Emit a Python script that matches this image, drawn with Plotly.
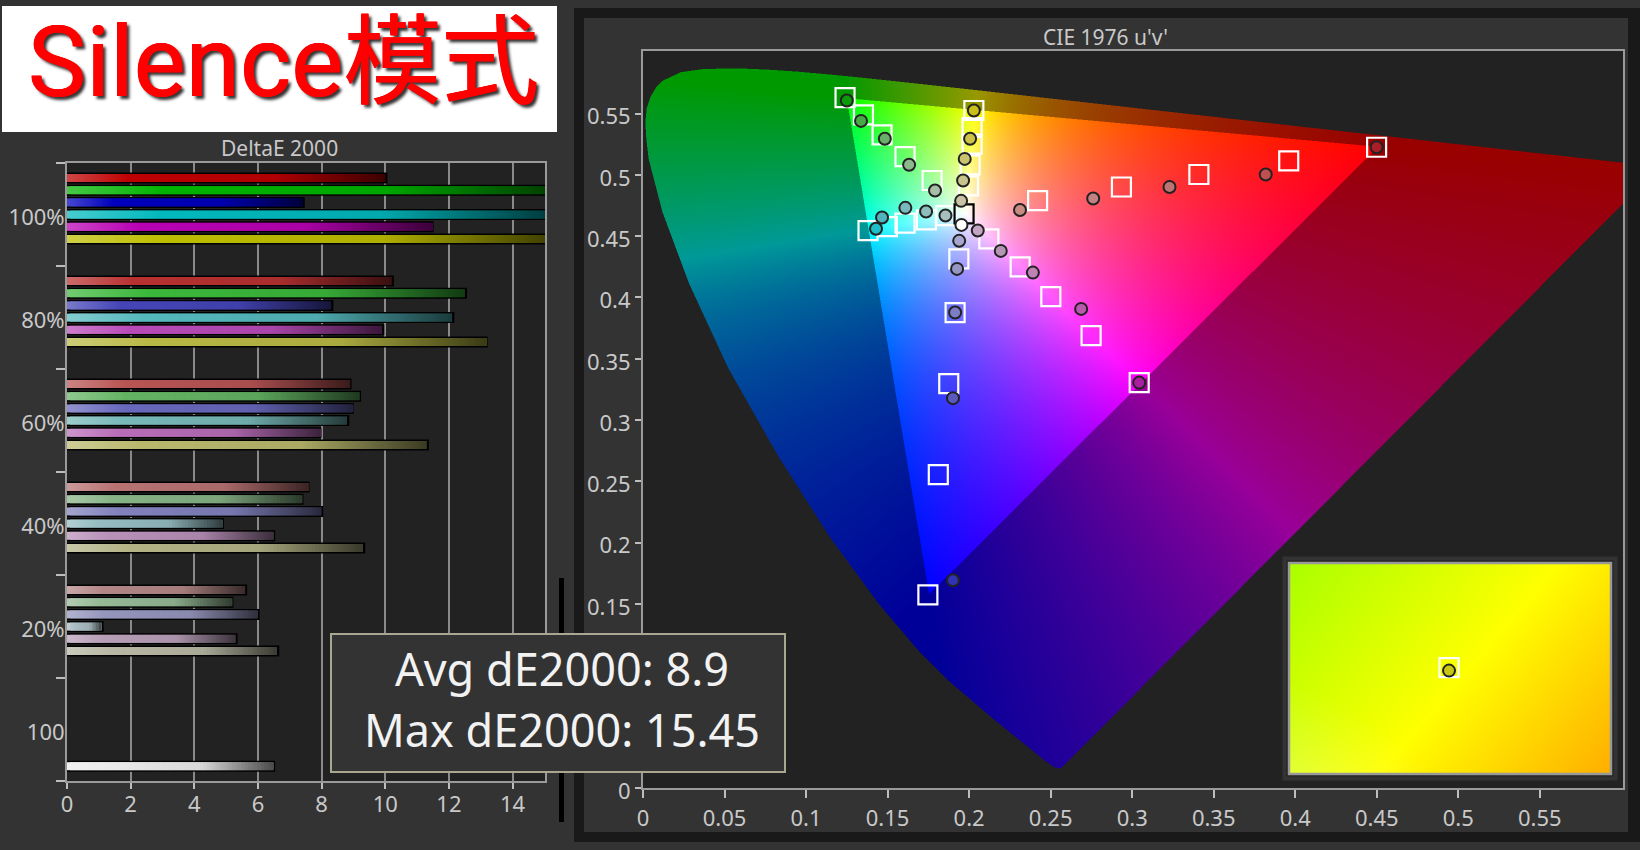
import base64, struct, zlib
import numpy as np
import plotly.graph_objects as go

W, H = 1640, 850

# ---------- DeltaE bars ----------
row_labels = ["100%", "80%", "60%", "40%", "20%", "100"]
de_100 = [10.0, 15.45, 7.4, 15.2, 11.45, 15.3]
de_80 = [10.2, 12.5, 8.3, 12.1, 9.9, 13.15]
de_60 = [8.87, 9.17, 8.94, 8.8, 7.92, 11.3]
de_40 = [7.55, 7.36, 7.98, 4.86, 6.47, 9.3]
de_20 = [5.59, 5.16, 5.98, 1.08, 5.29, 6.6]
de_white = [6.47]
x_ticks = [0, 2, 4, 6, 8, 10, 12, 14]

bar_100 = ["#be0000", "#00b400", "#0000be", "#00b9be", "#b900b4", "#bebe00"]
bar_80 = ["#b93232", "#3cb93c", "#4646b9", "#55b9be", "#b94bb9", "#b9b946"]
bar_60 = ["#b95555", "#64b464", "#6969be", "#78b9b9", "#b96eb9", "#b9b96e"]
bar_40 = ["#b97373", "#87b487", "#8282be", "#96bec3", "#b991b9", "#b4b487"]
bar_20 = ["#b48787", "#96b996", "#9696be", "#aabec3", "#b9a0b9", "#b9b9a5"]
bar_white = ["#ebebeb"]

# ---------- CIE measurements (u', v') ----------
red_target_u = [0.4499, 0.3960, 0.3409, 0.2934, 0.2420]
red_target_v = [0.5225, 0.5114, 0.5003, 0.4901, 0.4790]
green_target_u = [0.1239, 0.1352, 0.1466, 0.1607, 0.1773]
green_target_v = [0.5630, 0.5489, 0.5326, 0.5149, 0.4954]
blue_target_u = [0.1747, 0.1811, 0.1875, 0.1914, 0.1937]
blue_target_v = [0.1575, 0.2556, 0.3298, 0.3877, 0.4315]
cyan_target_u = [0.1380, 0.1499, 0.1607, 0.1738, 0.1857]
cyan_target_v = [0.4546, 0.4578, 0.4606, 0.4633, 0.4668]
magenta_target_u = [0.3043, 0.2748, 0.2501, 0.2313, 0.2121]
magenta_target_v = [0.3306, 0.3689, 0.4007, 0.4250, 0.4478]
yellow_target_u = [0.2029, 0.2018, 0.2018, 0.2006, 0.1996]
yellow_target_v = [0.5525, 0.5386, 0.5250, 0.5082, 0.4910]
white_target_u = [0.1969]
white_target_v = [0.4682]

red_meas_u = [0.4499, 0.3819, 0.3229, 0.2761, 0.2312]
red_meas_v = [0.5225, 0.5003, 0.4901, 0.4807, 0.4714]
green_meas_u = [0.1250, 0.1337, 0.1483, 0.1632, 0.1791]
green_meas_v = [0.5606, 0.5440, 0.5294, 0.5082, 0.4872]
blue_meas_u = [0.1901, 0.1901, 0.1914, 0.1926, 0.1939]
blue_meas_v = [0.1694, 0.3179, 0.3877, 0.4233, 0.4462]
cyan_meas_u = [0.1429, 0.1466, 0.1609, 0.1736, 0.1855]
cyan_meas_v = [0.4560, 0.4652, 0.4731, 0.4701, 0.4668]
magenta_meas_u = [0.3043, 0.2687, 0.2391, 0.2194, 0.2053]
magenta_meas_v = [0.3306, 0.3907, 0.4203, 0.4380, 0.4546]
yellow_meas_u = [0.2029, 0.2006, 0.1973, 0.1963, 0.1951]
yellow_meas_v = [0.5525, 0.5294, 0.5130, 0.4954, 0.4788]
white_meas_u = [0.1953]
white_meas_v = [0.4592]

red_dots = ["#aa1e28", "#be5050", "#be7373", "#c38282", "#c88c82"]
green_dots = ["#0a9a0a", "#46aa46", "#69af69", "#8cb98c", "#a5bea5"]
blue_dots = ["#3232b4", "#5a5abe", "#7d7dc3", "#9696c3", "#a5a5cd"]
cyan_dots = ["#1ebec8", "#50b4be", "#78b9be", "#8cbebe", "#a5bebe"]
magenta_dots = ["#aa1ea0", "#b95aaf", "#be82b4", "#b496b4", "#c3a5c3"]
yellow_dots = ["#c8be1e", "#cdc346", "#c8c36e", "#c8c38c", "#c8c3a5"]
white_dots = ["#ffffff"]

# spectral locus, CIE 1931 x, y from 380 to 700 nm
locus_x = [.1741, .1733, .1714, .1689, .1644, .1566, .1440, .1355, .1241, .1096, .0913, .0687,
           .0454, .0235, .0082, .0052, .0039, .0066, .0139, .0248, .0389, .0743, .1142, .1547,
           .1929, .2296, .2658, .3016, .3373, .3731, .4441, .5125, .5752, .6270, .6658, .6915,
           .7079, .7260, .7347]
locus_y = [.0050, .0048, .0051, .0069, .0109, .0177, .0297, .0399, .0578, .0868, .1327, .2007,
           .2950, .4127, .5384, .5966, .6548, .7060, .7502, .7860, .8120, .8338, .8262, .8059,
           .7816, .7543, .7243, .6923, .6589, .6245, .5547, .4866, .4242, .3725, .3340, .3083,
           .2920, .2740, .2653]

cie_ticks = [0, 0.05, 0.1, 0.15, 0.2, 0.25, 0.3, 0.35, 0.4, 0.45, 0.5, 0.55]
cie_labels_x = ["0", "0.05", "0.1", "0.15", "0.2", "0.25", "0.3", "0.35", "0.4", "0.45", "0.5", "0.55"]
# 0.05 and 0.1 sit behind the text box in the reference
cie_labels_y = ["0", "", "", "0.15", "0.2", "0.25", "0.3", "0.35", "0.4", "0.45", "0.5", "0.55"]

inset_target_x, inset_target_y = [0.497], [0.504]
inset_meas_x, inset_meas_y = [0.497], [0.490]


# ---------- helpers ----------
def px(x):
    return x / W


def py(y):
    return 1 - y / H


def rect(x0, y0, x1, y1, fill=None, line=None, lw=0, layer="below"):
    d = dict(type="rect", xref="paper", yref="paper", x0=px(x0), x1=px(x1), y0=py(y0), y1=py(y1),
             layer=layer, line=dict(width=lw, color=line or "rgba(0,0,0,0)"))
    if fill:
        d["fillcolor"] = fill
    return d


def hex_rgb(c):
    return np.array([int(c[i:i + 2], 16) for i in (1, 3, 5)], float)


def png_uri(img):
    h, w, _ = img.shape
    raw = b"".join(b"\x00" + img[r].tobytes() for r in range(h))

    def chunk(t, d):
        return struct.pack(">I", len(d)) + t + d + struct.pack(">I", zlib.crc32(t + d) & 0xffffffff)

    data = b"\x89PNG\r\n\x1a\n" + chunk(b"IHDR", struct.pack(">IIBBBBB", w, h, 8, 6, 0, 0, 0)) + \
        chunk(b"IDAT", zlib.compress(raw, 6)) + chunk(b"IEND", b"")
    return "data:image/png;base64," + base64.b64encode(data).decode()


def gamut_image(w=1960, h=1474, vmax=0.601, umax=0.601):
    lx, ly = np.array(locus_x), np.array(locus_y)
    den = -2 * lx + 12 * ly + 3
    pu, pv = 4 * lx / den, 9 * ly / den
    uu = (np.arange(w) + .5) / w * umax
    vv = vmax - (np.arange(h) + .5) / h * vmax
    U, V = np.meshgrid(uu, vv)
    inside = np.zeros(U.shape, bool)
    n = len(pu)
    for i in range(n):
        j = (i + 1) % n
        cond = (pv[i] > V) != (pv[j] > V)
        xcross = (pu[j] - pu[i]) * (V - pv[i]) / (pv[j] - pv[i] + 1e-12) + pu[i]
        inside ^= cond & (U < xcross)
    d = 6 * U - 16 * V + 12
    x, y = 9 * U / d, 4 * V / d
    y = np.maximum(y, 1e-4)
    X, Y, Z = x / y, np.ones_like(y), (1 - x - y) / y
    r = 3.2406 * X - 1.5372 * Y - 0.4986 * Z
    g = -0.9689 * X + 1.8758 * Y + 0.0415 * Z
    b = 0.0557 * X - 0.2040 * Y + 1.0570 * Z
    rgb = np.stack([r, g, b], -1)
    in_tri = rgb.min(-1) >= 0
    rgb = np.clip(rgb, 0, None)
    rgb = rgb / np.maximum(rgb.max(-1, keepdims=True), 1e-6)
    rgb = rgb ** (1 / 1.15)
    rgb = rgb * np.where(in_tri, 1.0, 0.6)[..., None]
    out = np.zeros((h, w, 4), np.uint8)
    out[..., :3] = np.clip(rgb * 255, 0, 255).astype(np.uint8)
    out[..., 3] = np.where(inside, 255, 0)
    return out


def inset_image(w=322, h=211):
    xs = np.linspace(0, 1, w)
    ys = np.linspace(0, 1, h)
    X, Y = np.meshgrid(xs, ys)
    dist = (X - .28) + .56 * (Y - 1)
    r = np.where(dist < 0, 255 + dist / .84 * 85, 255)
    g = np.where(dist < 0, 255, 255 - dist / .72 * 80)
    b = np.clip((1 - X) * Y - .55, 0, 1) * 120
    out = np.zeros((h, w, 4), np.uint8)
    out[..., 0], out[..., 1], out[..., 2] = np.clip(r, 0, 255), np.clip(g, 0, 255), b
    out[..., 3] = 255
    return out


def gradient(base, t):
    base = hex_rgb(base)
    white = np.array([255., 255, 255])
    stops = [0, .2, .65, 1]
    cols = [base * .72 + white * .28, base, base * .92, base * .32]
    c = [np.interp(t, stops, [k[i] for k in cols]) for i in range(3)]
    return "rgb(%d,%d,%d)" % tuple(c)


# ---------- figure ----------
fig = go.Figure()
FONT = "Noto Sans"
TXT = "#c9c9c9"
BAND, SLOT0, SLOT, FILL, EDGE = 103.0, 15.0, 12.2, 8.0, 11.0
rows = [de_100, de_80, de_60, de_40, de_20]
cols = [bar_100, bar_80, bar_60, bar_40, bar_20]
ypos, vals, bases, colors = [], [], [], []
edge_y, edge_x = [], []
STEP = 0.1


def add_bar(pos, value, col):
    edge_y.append(pos)
    edge_x.append(value + 0.07)
    n = int(np.ceil(value / STEP))
    for k in range(n):
        ypos.append(pos)
        bases.append(k * STEP)
        vals.append(max(value - k * STEP, 0) if k == n - 1 else STEP * 2.0)
        colors.append(gradient(col, (k + .5) / n))


for r, (row, colr) in enumerate(zip(rows, cols)):
    for i, v in enumerate(row):
        add_bar(r + (SLOT0 + SLOT * i) / BAND, v, colr[i])
add_bar(5 + (SLOT0 + SLOT * 6) / BAND, de_white[0], bar_white[0])

fig.add_trace(go.Bar(orientation="h", y=edge_y, x=edge_x, width=EDGE / BAND,
                     marker=dict(color="#000000", line=dict(width=0)), hoverinfo="skip",
                     showlegend=False, xaxis="x", yaxis="y"))
fig.add_trace(go.Bar(orientation="h", y=ypos, x=vals, base=bases, width=FILL / BAND,
                     marker=dict(color=colors, line=dict(width=0)), hoverinfo="skip",
                     showlegend=False, xaxis="x", yaxis="y"))

all_series = [
    (red_target_u, red_target_v, red_meas_u, red_meas_v, red_dots, "#ffffff"),
    (green_target_u, green_target_v, green_meas_u, green_meas_v, green_dots, "#ffffff"),
    (blue_target_u, blue_target_v, blue_meas_u, blue_meas_v, blue_dots, "#ffffff"),
    (cyan_target_u, cyan_target_v, cyan_meas_u, cyan_meas_v, cyan_dots, "#ffffff"),
    (magenta_target_u, magenta_target_v, magenta_meas_u, magenta_meas_v, magenta_dots, "#ffffff"),
    (yellow_target_u, yellow_target_v, yellow_meas_u, yellow_meas_v, yellow_dots, "#ffffff"),
    (white_target_u, white_target_v, white_meas_u, white_meas_v, white_dots, "#000000"),
]
for tu, tv, _, _, _, sq in all_series:
    fig.add_trace(go.Scatter(x=tu, y=tv, mode="markers", xaxis="x2", yaxis="y2", showlegend=False,
                             hoverinfo="skip",
                             marker=dict(symbol="square-open", size=19, color=sq,
                                         line=dict(color=sq, width=2.2))))
for _, _, mu, mv, dots, _ in all_series:
    fig.add_trace(go.Scatter(x=mu, y=mv, mode="markers", xaxis="x2", yaxis="y2", showlegend=False,
                             hoverinfo="skip",
                             marker=dict(symbol="circle", size=12, color=dots,
                                         line=dict(color="#222222", width=2))))
fig.add_trace(go.Scatter(x=inset_target_x, y=inset_target_y, mode="markers", xaxis="x3", yaxis="y3",
                         showlegend=False, hoverinfo="skip",
                         marker=dict(symbol="square-open", size=19, color="#ffffff",
                                     line=dict(color="#ffffff", width=2.2))))
fig.add_trace(go.Scatter(x=inset_meas_x, y=inset_meas_y, mode="markers", xaxis="x3", yaxis="y3",
                         showlegend=False, hoverinfo="skip",
                         marker=dict(symbol="circle", size=12, color="#c8c814",
                                     line=dict(color="#222222", width=2))))

axis_style = dict(showline=True, linecolor="#9a9a9a", linewidth=2, mirror=True, zeroline=False,
                  automargin=False,
                  tickfont=dict(family=FONT, size=22, color=TXT), tickcolor="#bdbdbd", tickwidth=2,
                  ticks="outside")

shapes = [
    rect(574, 8, 1640, 842, fill="#191919"),
    rect(584, 18, 1628, 832, fill="#333333"),
    rect(643, 51, 1623, 788, fill="#222222"),
    rect(67, 163, 545, 781, fill="#222222"),
    rect(2, 6, 557, 132, fill="#ffffff"),
    rect(559, 578, 564, 822, fill="#000000"),
    rect(1284.5, 558.5, 1615.5, 778.5, line="#333333", lw=4, layer="above"),
    rect(1289, 563, 1611, 774, line="#999999", lw=2.5, layer="above"),
]

ann = [
    dict(x=px(279), y=py(148), text="DeltaE 2000", font=dict(family=FONT, size=21, color=TXT)),
    dict(x=px(1105), y=py(37.5), text="CIE 1976 u'v'", font=dict(family=FONT, size=21, color=TXT)),
    dict(x=px(283), y=py(63), text="Silence模式",
         font=dict(family="Roboto, Noto Sans CJK TC", size=98, color="#ff0000",
                   shadow="0.5px 0 0 #f00, -0.5px 0 0 #f00, 3px 3px 3px rgba(0,0,0,0.8)")),
    dict(x=px(558), y=py(702.5), text=" ", width=452, height=136, bgcolor="#333333",
         bordercolor="#a8a890", borderwidth=2, borderpad=0, font=dict(size=10)),
    dict(x=px(562), y=py(668), text="Avg dE2000: 8.9", font=dict(family=FONT, size=45, color="#f2f2f2")),
    dict(x=px(562), y=py(729), text="Max dE2000: 15.45", font=dict(family=FONT, size=45, color="#f2f2f2")),
]
for a in ann:
    a.update(xref="paper", yref="paper", showarrow=False, xanchor="center", yanchor="middle")

images = [
    dict(source=png_uri(gamut_image()), xref="x2", yref="y2", x=0, y=0.601, sizex=0.601, sizey=0.601,
         sizing="stretch", layer="below", xanchor="left", yanchor="top"),
    dict(source=png_uri(inset_image()), xref="x3", yref="y3", x=0, y=1, sizex=1, sizey=1,
         sizing="stretch", layer="below", xanchor="left", yanchor="top"),
]

fig.update_layout(
    width=W, height=H, autosize=False,
    margin=dict(l=0, r=0, t=0, b=0, autoexpand=False),
    paper_bgcolor="#333333", plot_bgcolor="rgba(0,0,0,0)", barmode="overlay",
    showlegend=False, shapes=shapes, annotations=ann, images=images,
    xaxis=dict(domain=[px(67), px(545)], range=[0, 15.02], tickvals=x_ticks, anchor="y",
               showgrid=True, gridcolor="#8a8a8a", gridwidth=1.5, ticklen=6, ticklabelstandoff=-3, **axis_style),
    yaxis=dict(domain=[py(781), py(163)], range=[6, 0], anchor="x", showgrid=False,
               tickvals=[k + 0.5 for k in range(6)], ticktext=row_labels, ticklabelstandoff=-4, ticklabelshift=-3,
               minor=dict(tickvals=list(range(7)), ticks="outside", ticklen=9, tickwidth=2,
                          tickcolor="#bdbdbd", showgrid=False),
               **{**axis_style, "ticks": ""}),
    xaxis2=dict(domain=[px(643), px(1623)], range=[0, 0.601], tickvals=cie_ticks, ticktext=cie_labels_x,
                anchor="y2", showgrid=False, ticklen=8, ticklabelstandoff=2, **axis_style),
    yaxis2=dict(domain=[py(788), py(51)], range=[0, 0.601], tickvals=cie_ticks, ticktext=cie_labels_y,
                anchor="x2", showgrid=False, ticklen=6, ticklabelshift=3, **axis_style),
    xaxis3=dict(domain=[px(1289), px(1611)], range=[0, 1], anchor="y3", visible=False, automargin=False),
    yaxis3=dict(domain=[py(774), py(563)], range=[0, 1], anchor="x3", visible=False, automargin=False),
)

fig.write_html("out.html", config=dict(displayModeBar=False, responsive=False),
               post_script="document.body.style.margin='0';document.body.style.overflow='hidden';")
